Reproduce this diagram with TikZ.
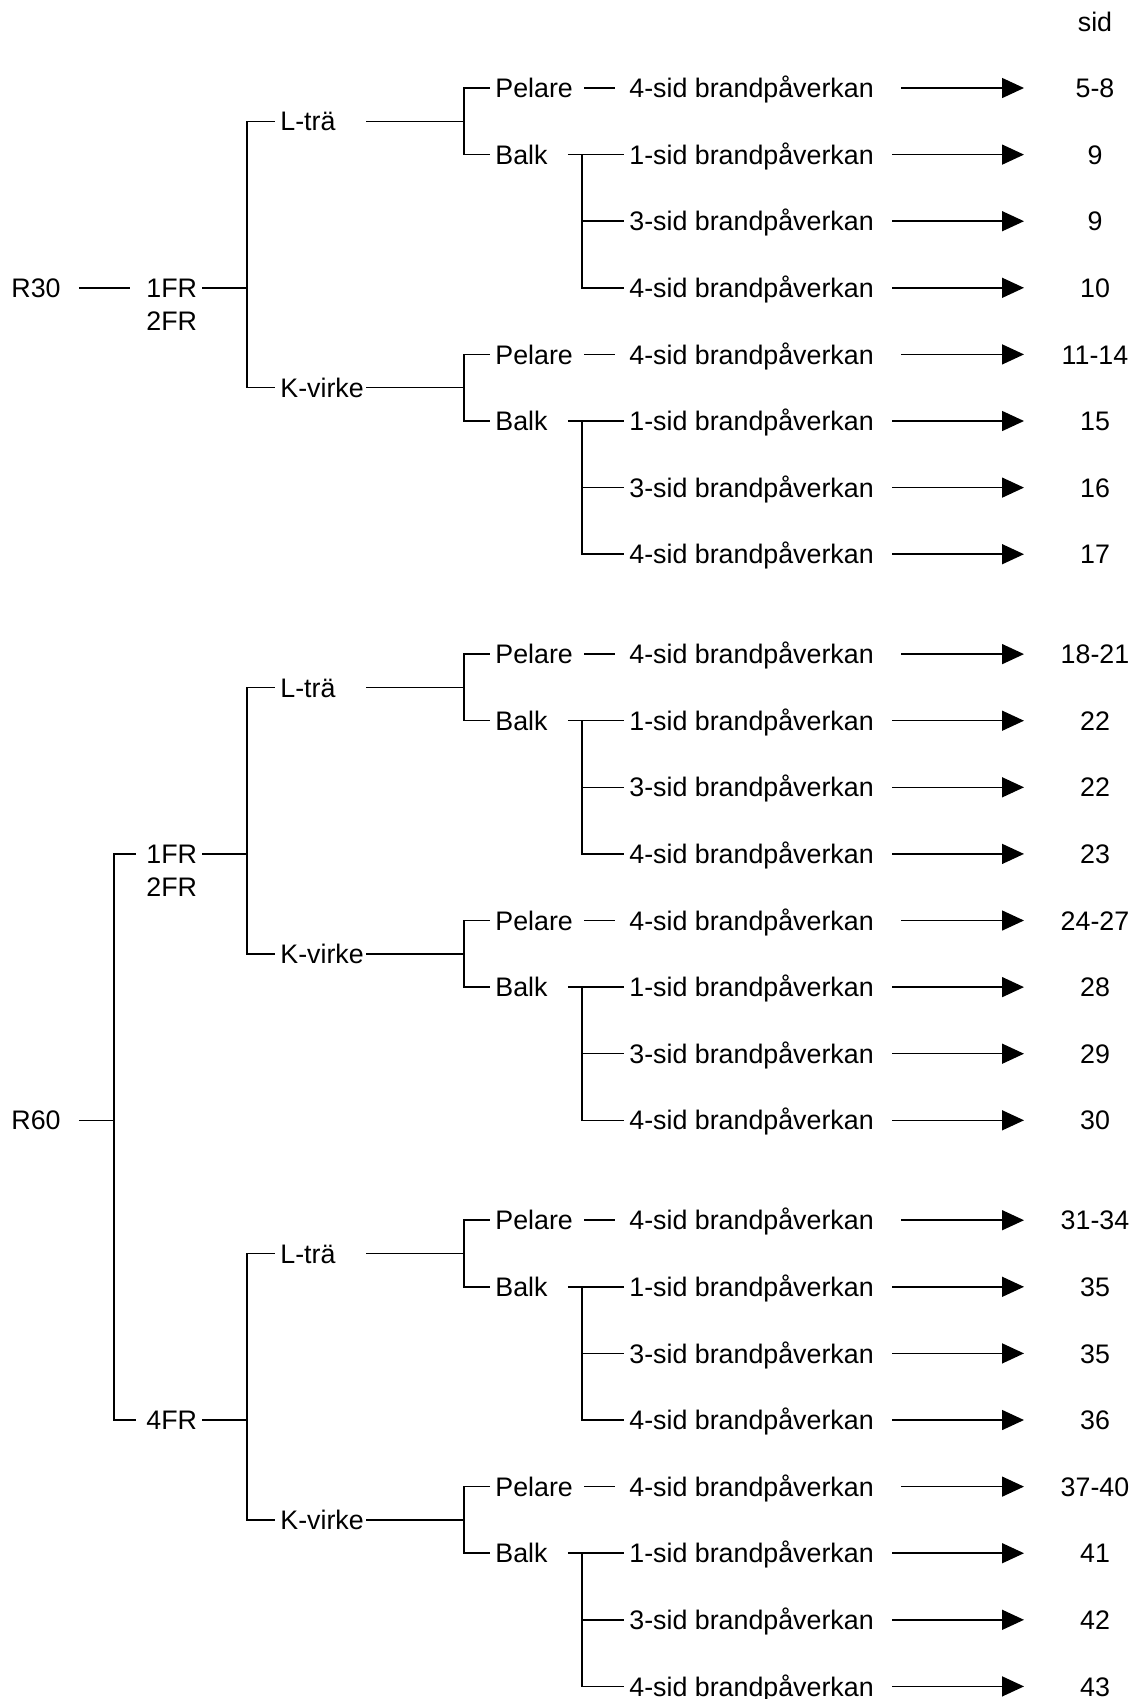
\documentclass[tikz,border=0pt]{standalone}
\usepackage{fontspec}
\setmainfont{Liberation Sans}
\usetikzlibrary{arrows.meta}
\tikzset{
  lbl/.style={anchor=west, inner xsep=2.5pt, inner ysep=0pt, text height=9.6pt, text depth=0pt, font=\fontsize{13.4}{16}\selectfont},
  num/.style={anchor=center, inner sep=0pt, text height=9.6pt, text depth=0pt, font=\fontsize{13.4}{16}\selectfont},
  conn/.style={line width=0.75pt},
  arr/.style={line width=0.75pt, -{Triangle[length=11pt,width=10pt]}},
}
% #1 name, #2 label, #3 base row, #4-#7 page numbers
\newcommand\matblock[7]{%
  \pgfmathsetmacro\bkYa{88+66.6*(#3)}%
  \pgfmathsetmacro\bkYb{88+66.6*(#3+1)}%
  \pgfmathsetmacro\bkYc{88+66.6*(#3+2)}%
  \pgfmathsetmacro\bkYd{88+66.6*(#3+3)}%
  \pgfmathsetmacro\bkYm{88+66.6*(#3+0.5)}%
  \node[lbl] (#1) at (275,\bkYm) {#2};
  \coordinate (#1s) at (366,\bkYm);
  \coordinate (#1j) at (464,\bkYm);
  \node[lbl] (#1p) at (490,\bkYa) {Pelare};
  \node[lbl] (#1b) at (490,\bkYb) {Balk};
  \node[lbl] (#1p4) at (624,\bkYa) {4-sid brandpåverkan};
  \node[lbl] (#1s1) at (624,\bkYb) {1-sid brandpåverkan};
  \node[lbl] (#1s3) at (624,\bkYc) {3-sid brandpåverkan};
  \node[lbl] (#1s4) at (624,\bkYd) {4-sid brandpåverkan};
  \coordinate (#1bj) at (582,\bkYb);
  \node[num] (#1n1) at (1095,\bkYa) {#4};
  \node[num] (#1n2) at (1095,\bkYb) {#5};
  \node[num] (#1n3) at (1095,\bkYc) {#6};
  \node[num] (#1n4) at (1095,\bkYd) {#7};
  \coordinate (#1t1) at (1024,\bkYa);
  \coordinate (#1t2) at (1024,\bkYb);
  \coordinate (#1t3) at (1024,\bkYc);
  \coordinate (#1t4) at (1024,\bkYd);
  \draw[conn] (#1s) -- (#1j);
  \draw[conn] (#1j) |- (#1p.west);
  \draw[conn] (#1j) |- (#1b.west);
  \draw[conn, shorten <=3pt, shorten >=4.5pt] (#1p) -- (#1p4);
  \draw[conn, shorten <=7.5pt] (#1b) -- (#1s1);
  \draw[conn] (#1bj) |- (#1s3.west);
  \draw[conn] (#1bj) |- (#1s4.west);
  \draw[arr, shorten <=11pt] (#1p4) -- (#1t1);
  \draw[arr, shorten <=6.5pt] (#1s1) -- (#1t2);
  \draw[arr, shorten <=6.5pt] (#1s3) -- (#1t3);
  \draw[arr, shorten <=6.5pt] (#1s4) -- (#1t4);
}
\begin{document}
\begin{tikzpicture}[x=0.5pt,y=-0.5pt]
\useasboundingbox (0,0) rectangle (1136,1699);
\node[num] (sid) at (1095,{88+66.6*(-1)}) {sid};

% ---- R30 ----
\matblock{LA}{L-trä}{0}{5-8}{9}{9}{10}
\matblock{KA}{K-virke}{4}{11-14}{15}{16}{17}
\node[lbl] (r30) at (6,{88+66.6*3}) {R30};
\node[lbl] (a1) at (141,{88+66.6*3}) {1FR};
\node[lbl] (a2) at (141,{88+66.6*3.5}) {2FR};
\coordinate (a1j) at (247,{88+66.6*3});
\draw[conn, shorten <=6.5pt, shorten >=5.5pt] (r30) -- (a1);
\draw[conn] (a1) -- (a1j);
\draw[conn] (a1j) |- (LA.west);
\draw[conn] (a1j) |- (KA.west);

% ---- R60, 1FR/2FR ----
\matblock{LB}{L-trä}{8.5}{18-21}{22}{22}{23}
\matblock{KB}{K-virke}{12.5}{24-27}{28}{29}{30}
\node[lbl] (b1) at (141,{88+66.6*11.5}) {1FR};
\node[lbl] (b2) at (141,{88+66.6*12}) {2FR};
\coordinate (b1j) at (247,{88+66.6*11.5});
\draw[conn] (b1) -- (b1j);
\draw[conn] (b1j) |- (LB.west);
\draw[conn] (b1j) |- (KB.west);

% ---- R60, 4FR ----
\matblock{LC}{L-trä}{17}{31-34}{35}{35}{36}
\matblock{KC}{K-virke}{21}{37-40}{41}{42}{43}
\node[lbl] (c1) at (141,{88+66.6*20}) {4FR};
\coordinate (c1j) at (247,{88+66.6*20});
\draw[conn] (c1) -- (c1j);
\draw[conn] (c1j) |- (LC.west);
\draw[conn] (c1j) |- (KC.west);

% ---- R60 root ----
\node[lbl] (r60) at (6,{88+66.6*15.5}) {R60};
\coordinate (rj) at (114,{88+66.6*15.5});
\draw[conn, shorten <=6.5pt] (r60) -- (rj);
\draw[conn, shorten >=2.5pt] (rj) |- (b1.west);
\draw[conn, shorten >=2.5pt] (rj) |- (c1.west);
\end{tikzpicture}
\end{document}
